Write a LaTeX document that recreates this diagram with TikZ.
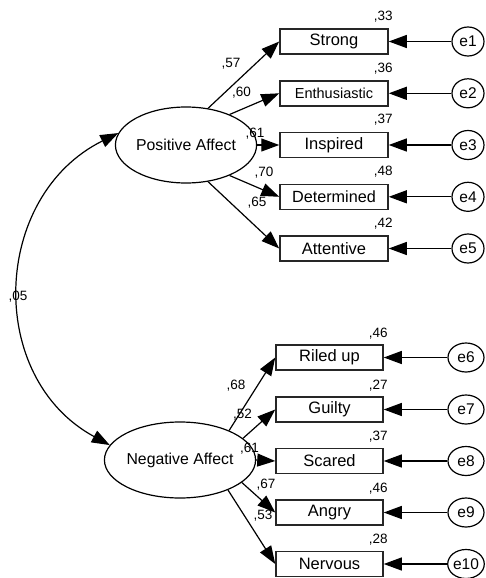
\documentclass[tikz,border=0pt]{standalone}
\usepackage{fontspec}
\setmainfont{Liberation Sans}
\usetikzlibrary{shapes.geometric,arrows.meta}
\begin{document}
\begin{tikzpicture}[x=1pt,y=1pt,
  latent/.style={draw, ellipse, line width=1.2pt, minimum width=118pt, minimum height=76pt, inner sep=0pt, font=\fontsize{15.8}{18}\selectfont},
  obsv/.style={draw=black!85, rectangle, line width=1.5pt, minimum height=25pt, inner sep=0pt, font=\fontsize{16.5}{18}\selectfont},
  topbox/.style={obsv, minimum width=108pt},
  botbox/.style={obsv, minimum width=107pt},
  errtop/.style={draw, ellipse, line width=1.2pt, minimum width=32pt, minimum height=29pt, inner sep=0pt, font=\fontsize{15.5}{17}\selectfont},
  errbot/.style={errtop, minimum width=36pt},
  arr/.style={line width=1.2pt, -{Triangle[length=18pt,width=13pt]}},
  covarr/.style={line width=1.2pt, {Triangle[length=18pt,width=13pt]}-{Triangle[length=18pt,width=13pt]}},
  num/.style={inner sep=0pt, font=\fontsize{13.5}{15}\selectfont},
  rsq/.style={num, anchor=base east},
]
\useasboundingbox (0,0) rectangle (486,-578);

% latent variables
\node[latent] (pa) at (186,-145) {Positive Affect};
\node[latent] (na) at (180,-460) {Negative Affect};

% observed variables (top)
\node[topbox] (b1) at (334,-41.5) {Strong};
\node[topbox, font=\fontsize{14.5}{16}\selectfont] (b2) at (334,-93.3) {Enthusiastic};
\node[topbox] (b3) at (334,-145) {Inspired};
\node[topbox, font=\fontsize{16.2}{18}\selectfont] (b4) at (334,-196.8) {Determined};
\node[topbox] (b5) at (334,-248.5) {Attentive};

% observed variables (bottom)
\node[botbox] (b6) at (329.5,-357.5) {Riled up};
\node[botbox] (b7) at (329.5,-409.5) {Guilty};
\node[botbox] (b8) at (329.5,-461) {Scared};
\node[botbox] (b9) at (329.5,-512.5) {Angry};
\node[botbox] (b10) at (329.5,-564) {Nervous};

% error terms
\node[errtop] (e1) at (468,-41.5) {e1};
\node[errtop] (e2) at (468,-93.3) {e2};
\node[errtop] (e3) at (468,-145) {e3};
\node[errtop] (e4) at (468,-196.8) {e4};
\node[errtop] (e5) at (468,-248.5) {e5};
\node[errbot] (e6) at (466,-357.5) {e6};
\node[errbot] (e7) at (466,-409.5) {e7};
\node[errbot] (e8) at (466,-461) {e8};
\node[errbot] (e9) at (466,-512.5) {e9};
\node[errbot] (e10) at (466,-564) {e10};

% loadings
\draw[arr] (pa.59) -- (b1.west);
\draw[arr] (pa.35) -- (b2.west);
\draw[arr] (pa.east) -- (b3.west);
\draw[arr] (pa.-35) -- (b4.west);
\draw[arr] (pa.-59) -- (b5.west);
\draw[arr] (na.31.5) -- (b6.west);
\draw[arr] (na.19) -- (b7.west);
\draw[arr] (na.east) -- (b8.west);
\draw[arr] (na.-20.5) -- (b9.west);
\draw[arr] (na.-32.5) -- (b10.west);

% error paths
\foreach \i in {1,...,10} {\draw[arr] (e\i.west) -- (b\i.east);}

% covariance
\draw[covarr] (pa.170) to[out=-153.6, in=151.5, looseness=1.16] (na.168);

% loading labels
\node[num] (l1) at (231,-64) {,57};
\node[num] (l2) at (241.5,-93) {,60};
\node[num] (l3) at (255,-134) {,61};
\node[num] (l4) at (264,-173) {,70};
\node[num] (l5) at (257,-203) {,65};
\node[num] (l6) at (236,-386) {,68};
\node[num] (l7) at (242.5,-415) {,52};
\node[num] (l8) at (249.5,-449) {,61};
\node[num] (l9) at (266,-485) {,67};
\node[num] (l10) at (263,-516) {,53};
\node[num] (cv) at (18,-297) {,05};

% squared multiple correlations
\node[rsq] (r1) at ([shift={(4,8)}]b1.north east) {,33};
\node[rsq] (r2) at ([shift={(4,8)}]b2.north east) {,36};
\node[rsq] (r3) at ([shift={(4,8)}]b3.north east) {,37};
\node[rsq] (r4) at ([shift={(4,8)}]b4.north east) {,48};
\node[rsq] (r5) at ([shift={(4,8)}]b5.north east) {,42};
\node[rsq] (r6) at ([shift={(4,7)}]b6.north east) {,46};
\node[rsq] (r7) at ([shift={(4,7)}]b7.north east) {,27};
\node[rsq] (r8) at ([shift={(4,7)}]b8.north east) {,37};
\node[rsq] (r9) at ([shift={(4,7)}]b9.north east) {,46};
\node[rsq] (r10) at ([shift={(4,7)}]b10.north east) {,28};
\end{tikzpicture}
\end{document}
